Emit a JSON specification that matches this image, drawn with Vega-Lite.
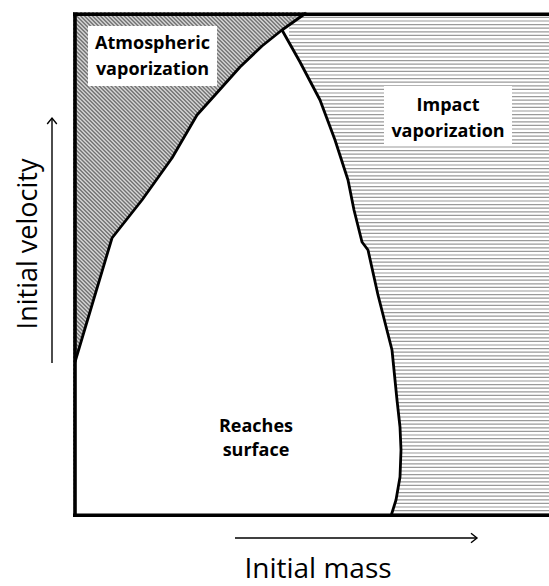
{
  "$schema": "https://vega.github.io/schema/vega-lite/v6.json",
  "width": 476,
  "height": 505,
  "autosize": {"type": "none"},
  "padding": {"left": 73, "top": 12, "right": 0, "bottom": 69},
  "background": "white",
  "config": {"view": {"stroke": null}},
  "datasets": {
    "hatchDiag": [{"x": -300, "y": -115, "x2": 700, "y2": 885}],
    "hatchHoriz": [{"x": 347, "y": -5, "x2": 347, "y2": 510}],
    "coverRight": [
      {"y": -5, "x": 0, "x2": 480},
      {"y": 155, "x": 2, "x2": 480},
      {"y": 279, "x": 39, "x2": 480},
      {"y": 317, "x": 69, "x2": 480},
      {"y": 359, "x": 99, "x2": 480},
      {"y": 402, "x": 124, "x2": 480},
      {"y": 422, "x": 142, "x2": 480},
      {"y": 450, "x": 167, "x2": 480},
      {"y": 471, "x": 189, "x2": 480},
      {"y": 487, "x": 209, "x2": 480},
      {"y": 504, "x": 233, "x2": 480},
      {"y": 510, "x": 241, "x2": 480}
    ],
    "coverMid": [
      {"y": -5, "x": 317, "x2": 216},
      {"y": 1, "x": 318, "x2": 216},
      {"y": 17, "x": 323, "x2": 216},
      {"y": 40, "x": 327, "x2": 216},
      {"y": 67, "x": 328, "x2": 216},
      {"y": 90, "x": 327, "x2": 216},
      {"y": 117, "x": 324, "x2": 216},
      {"y": 167, "x": 319, "x2": 216},
      {"y": 222, "x": 305, "x2": 216},
      {"y": 267, "x": 295, "x2": 216},
      {"y": 275, "x": 289, "x2": 216},
      {"y": 307, "x": 281, "x2": 216},
      {"y": 337, "x": 275, "x2": 216},
      {"y": 377, "x": 262, "x2": 216},
      {"y": 417, "x": 247, "x2": 216},
      {"y": 455, "x": 227, "x2": 216},
      {"y": 487, "x": 209, "x2": 216}
    ],
    "curveL": [
      {"i": 0, "x": 2, "y": 155},
      {"i": 1, "x": 39, "y": 279},
      {"i": 2, "x": 69, "y": 317},
      {"i": 3, "x": 99, "y": 359},
      {"i": 4, "x": 124, "y": 402},
      {"i": 5, "x": 142, "y": 422},
      {"i": 6, "x": 167, "y": 450},
      {"i": 7, "x": 189, "y": 471},
      {"i": 8, "x": 209, "y": 487},
      {"i": 9, "x": 233, "y": 504}
    ],
    "curveR": [
      {"i": 0, "x": 209, "y": 487},
      {"i": 1, "x": 227, "y": 455},
      {"i": 2, "x": 247, "y": 417},
      {"i": 3, "x": 262, "y": 377},
      {"i": 4, "x": 275, "y": 337},
      {"i": 5, "x": 281, "y": 307},
      {"i": 6, "x": 289, "y": 275},
      {"i": 7, "x": 295, "y": 267},
      {"i": 8, "x": 305, "y": 222},
      {"i": 9, "x": 319, "y": 167},
      {"i": 10, "x": 324, "y": 117},
      {"i": 11, "x": 327, "y": 90},
      {"i": 12, "x": 328, "y": 67},
      {"i": 13, "x": 327, "y": 40},
      {"i": 14, "x": 323, "y": 17},
      {"i": 15, "x": 318, "y": 1}
    ],
    "borders": [
      {"x": 2, "y": 0, "x2": 2, "y2": 504.4},
      {"x": 0, "y": 502.7, "x2": 476, "y2": 502.7},
      {"x": 0, "y": 1.7, "x2": 476, "y2": 1.7}
    ],
    "arrows": [
      {"x": -21, "y": 154, "x2": -21, "y2": 399},
      {"x": 162, "y": -21, "x2": 404, "y2": -21}
    ],
    "heads": [
      {"x": -21, "y": 399, "dir": "up"},
      {"x": 404, "y": -21, "dir": "right"}
    ],
    "boxes": [
      {"x": 15, "y": 431, "x2": 144, "y2": 491},
      {"x": 311, "y": 371, "x2": 439, "y2": 431}
    ],
    "labels": [
      {"x": 79.5, "y": 468, "t": "Atmospheric"},
      {"x": 79.5, "y": 442, "t": "vaporization"},
      {"x": 375, "y": 406, "t": "Impact"},
      {"x": 375, "y": 380, "t": "vaporization"},
      {"x": 183, "y": 85, "t": "Reaches"},
      {"x": 183, "y": 61, "t": "surface"}
    ],
    "vLabel": [{"x": -36, "y": 273, "t": "Initial velocity"}],
    "hLabel": [{"x": 245, "y": -61, "t": "Initial mass"}]
  },
  "encoding": {
    "x": {"field": "x", "type": "quantitative", "scale": {"domain": [0, 476], "nice": false, "zero": false}, "axis": null},
    "y": {"field": "y", "type": "quantitative", "scale": {"domain": [0, 505], "nice": false, "zero": false}, "axis": null}
  },
  "layer": [
    {
      "data": {"name": "hatchDiag"},
      "mark": {"type": "rule", "clip": true, "strokeWidth": 520, "color": "#d6d6d6"},
      "encoding": {"x2": {"field": "x2"}, "y2": {"field": "y2"}}
    },
    {
      "data": {"name": "hatchDiag"},
      "mark": {"type": "rule", "clip": true, "strokeWidth": 520, "color": "#727272", "strokeDash": [1.4, 1.4]},
      "encoding": {"x2": {"field": "x2"}, "y2": {"field": "y2"}}
    },
    {
      "data": {"name": "coverRight"},
      "mark": {"type": "area", "orient": "horizontal", "clip": true, "color": "white", "opacity": 1},
      "encoding": {"x2": {"field": "x2"}}
    },
    {
      "data": {"name": "hatchHoriz"},
      "mark": {"type": "rule", "clip": true, "strokeWidth": 262, "color": "#9a9a9a", "strokeDash": [1.2, 2.4]},
      "encoding": {"x2": {"field": "x2"}, "y2": {"field": "y2"}}
    },
    {
      "data": {"name": "coverMid"},
      "mark": {"type": "area", "orient": "horizontal", "clip": true, "color": "white", "opacity": 1},
      "encoding": {"x2": {"field": "x2"}}
    },
    {
      "data": {"name": "boxes"},
      "mark": {"type": "rect", "color": "white", "opacity": 1},
      "encoding": {"x2": {"field": "x2"}, "y2": {"field": "y2"}}
    },
    {
      "data": {"name": "curveL"},
      "mark": {"type": "line", "color": "black", "strokeWidth": 2.8, "strokeJoin": "round"},
      "encoding": {"order": {"field": "i", "type": "quantitative"}}
    },
    {
      "data": {"name": "curveR"},
      "mark": {"type": "line", "color": "black", "strokeWidth": 2.8, "strokeJoin": "round"},
      "encoding": {"order": {"field": "i", "type": "quantitative"}}
    },
    {
      "data": {"name": "borders"},
      "mark": {"type": "rule", "color": "black", "strokeWidth": 3.6},
      "encoding": {"x2": {"field": "x2"}, "y2": {"field": "y2"}}
    },
    {
      "data": {"name": "arrows"},
      "mark": {"type": "rule", "color": "black", "strokeWidth": 1.4},
      "encoding": {"x2": {"field": "x2"}, "y2": {"field": "y2"}}
    },
    {
      "data": {"name": "heads"},
      "mark": {"type": "point", "filled": false, "color": "black", "strokeWidth": 1.4, "size": 144, "opacity": 1},
      "encoding": {
        "shape": {
          "field": "dir", "type": "nominal",
          "scale": {"domain": ["up", "right"], "range": ["M -0.8 1 L 0 0 L 0.8 1", "M -1 -0.8 L 0 0 L -1 0.8"]},
          "legend": null
        }
      }
    },
    {
      "data": {"name": "labels"},
      "mark": {"type": "text", "font": "Open Sans", "fontWeight": "bold", "fontSize": 18, "align": "center", "baseline": "alphabetic", "color": "black"},
      "encoding": {"text": {"field": "t"}}
    },
    {
      "data": {"name": "vLabel"},
      "mark": {"type": "text", "font": "Open Sans", "fontSize": 27, "angle": 270, "align": "center", "baseline": "alphabetic", "color": "black"},
      "encoding": {"text": {"field": "t"}}
    },
    {
      "data": {"name": "hLabel"},
      "mark": {"type": "text", "font": "Open Sans", "fontSize": 28, "align": "center", "baseline": "alphabetic", "color": "black"},
      "encoding": {"text": {"field": "t"}}
    }
  ]
}
